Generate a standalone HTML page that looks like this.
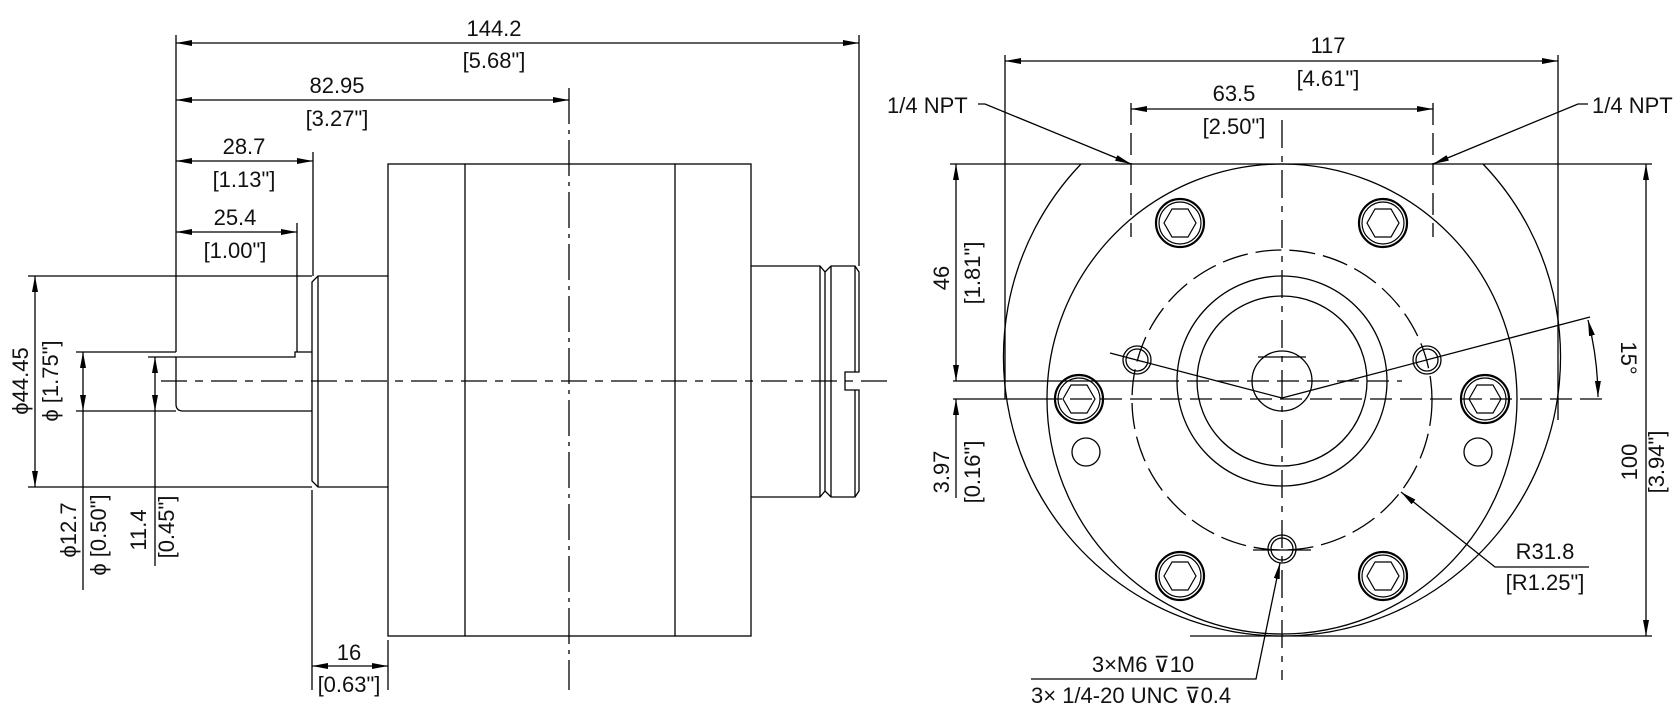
<!DOCTYPE html>
<html><head><meta charset="utf-8"><style>
html,body{margin:0;padding:0;background:#fff;}
svg{display:block;}
text{font-family:"Liberation Sans",sans-serif;font-size:22px;fill:#111;}
</style></head><body>
<svg width="1679" height="713" viewBox="0 0 1679 713" xmlns="http://www.w3.org/2000/svg">
<defs>
<marker id="a" viewBox="0 0 16 6" refX="16" refY="3" markerWidth="16" markerHeight="6" markerUnits="userSpaceOnUse" orient="auto-start-reverse">
<path d="M0,0 L16,3 L0,6 Z" fill="#000"/></marker>
</defs>
<g stroke="#000" stroke-width="1.3" fill="none">
<rect x="388" y="164" width="363" height="472"/>
<line x1="465" y1="164" x2="465" y2="636"/>
<line x1="675" y1="164" x2="675" y2="636"/>
<line x1="569" y1="88" x2="569" y2="690" stroke-dasharray="36,6,4,6"/>
<path d="M751,266 H820 L825,272 V491 L820,497 H751"/>
<path d="M825,272 L831,266 H855 L859,272 V372 H845 V390 H859 V491 L855,497 H831 L825,491"/>
<line x1="820" y1="266" x2="820" y2="497"/>
<line x1="831" y1="266" x2="831" y2="497"/>
<line x1="855" y1="266" x2="855" y2="372"/><line x1="855" y1="390" x2="855" y2="497"/>
<path d="M388,276 H318 L312,282 V481 L318,487 H388"/>
<line x1="318" y1="276" x2="318" y2="487"/>
<path d="M312,352 H295 V357 H176 V404 Q176,411 183,411 H312"/>
<line x1="161" y1="381" x2="894" y2="381" stroke-dasharray="26,8,8,8"/>
<line x1="176" y1="35" x2="176" y2="352"/>
<line x1="313" y1="152" x2="313" y2="276"/>
<line x1="297" y1="223" x2="297" y2="352"/>
<line x1="859" y1="35" x2="859" y2="266"/>
<line x1="28" y1="276" x2="312" y2="276"/>
<line x1="28" y1="487" x2="312" y2="487"/>
<line x1="76" y1="352" x2="176" y2="352"/>
<line x1="76" y1="411" x2="176" y2="411"/>
<line x1="148" y1="357" x2="176" y2="357"/>
<line x1="312" y1="490" x2="312" y2="690"/>
<line x1="388" y1="640" x2="388" y2="690"/>
<line x1="176" y1="43" x2="859" y2="43" marker-start="url(#a)" marker-end="url(#a)"/>
<line x1="176" y1="100" x2="569" y2="100" marker-start="url(#a)" marker-end="url(#a)"/>
<line x1="176" y1="161" x2="313" y2="161" marker-start="url(#a)" marker-end="url(#a)"/>
<line x1="176" y1="232" x2="297" y2="232" marker-start="url(#a)" marker-end="url(#a)"/>
<line x1="35" y1="276" x2="35" y2="487" marker-start="url(#a)" marker-end="url(#a)"/>
<line x1="83" y1="352" x2="83" y2="411" marker-start="url(#a)" marker-end="url(#a)"/>
<line x1="83" y1="411" x2="83" y2="590"/>
<line x1="155" y1="357" x2="155" y2="411" marker-start="url(#a)" marker-end="url(#a)"/>
<line x1="155" y1="411" x2="155" y2="566"/>
<line x1="312" y1="666" x2="388" y2="666" marker-start="url(#a)" marker-end="url(#a)"/>

<line x1="950" y1="164" x2="1652" y2="164"/>
<line x1="1190" y1="636" x2="1652" y2="636"/>
<path d="M1081,164 A279,279 0 0 0 1282,636 A279,279 0 0 0 1483,164"/>
<circle cx="1282" cy="399" r="235"/>
<circle cx="1282" cy="400" r="150" stroke-dasharray="26,8"/>
<circle cx="1282" cy="381" r="105"/>
<circle cx="1282" cy="381" r="85"/>
<circle cx="1282" cy="381" r="30"/>
<line x1="1258" y1="357" x2="1306" y2="357"/>
<line x1="1282" y1="120" x2="1282" y2="680" stroke-dasharray="28,8,6,8"/>
<line x1="953" y1="381" x2="1157" y2="381"/>
<line x1="1157" y1="381" x2="1402" y2="381" stroke-dasharray="22,8"/>
<line x1="953" y1="399" x2="1040" y2="399"/>
<line x1="1040" y1="399" x2="1603" y2="399" stroke-dasharray="22,8"/>
<line x1="1282" y1="398" x2="1110" y2="353"/>
<line x1="1282" y1="398" x2="1590" y2="317"/>
<path d="M1588,320 A317,317 0 0 1 1598,397" marker-start="url(#a)" marker-end="url(#a)"/>
<g stroke-width="2.2">
<circle cx="1180" cy="223" r="24"/><circle cx="1383" cy="223" r="24"/>
<circle cx="1079" cy="399" r="24"/><circle cx="1485" cy="399" r="24"/>
<circle cx="1180" cy="576" r="24"/><circle cx="1383" cy="576" r="24"/>
</g>
<g stroke-width="1.2">
<circle cx="1180" cy="223" r="21"/><circle cx="1383" cy="223" r="21"/>
<circle cx="1079" cy="399" r="21"/><circle cx="1485" cy="399" r="21"/>
<circle cx="1180" cy="576" r="21"/><circle cx="1383" cy="576" r="21"/>
<polygon points="1164,223 1172,209 1188,209 1196,223 1188,237 1172,237"/>
<polygon points="1367,223 1375,209 1391,209 1399,223 1391,237 1375,237"/>
<polygon points="1063,399 1071,385 1087,385 1095,399 1087,413 1071,413"/>
<polygon points="1469,399 1477,385 1493,385 1501,399 1493,413 1477,413"/>
<polygon points="1164,576 1172,562 1188,562 1196,576 1188,590 1172,590"/>
<polygon points="1367,576 1375,562 1391,562 1399,576 1391,590 1375,590"/>
</g>
<circle cx="1086" cy="452" r="14"/><circle cx="1478" cy="452" r="14"/>
<circle cx="1137" cy="360" r="14"/><circle cx="1137" cy="360" r="11"/>
<circle cx="1427" cy="360" r="14"/><circle cx="1427" cy="360" r="11"/>
<circle cx="1282" cy="549" r="14"/><circle cx="1282" cy="549" r="11"/>
<line x1="1253" y1="550" x2="1311" y2="550"/>
<line x1="1005" y1="55" x2="1005" y2="399"/>
<line x1="1558" y1="55" x2="1558" y2="420"/>
<line x1="1005" y1="61" x2="1558" y2="61" marker-start="url(#a)" marker-end="url(#a)"/>
<line x1="1131" y1="103" x2="1131" y2="237" stroke-dasharray="22,8"/>
<line x1="1433" y1="103" x2="1433" y2="237" stroke-dasharray="22,8"/>
<line x1="1131" y1="109" x2="1433" y2="109" marker-start="url(#a)" marker-end="url(#a)"/>
<path d="M978,104 L985,104 L1131,164" marker-end="url(#a)"/>
<path d="M1588,104 H1578 L1433,164" marker-end="url(#a)"/>
<line x1="956" y1="164" x2="956" y2="381" marker-start="url(#a)" marker-end="url(#a)"/>
<line x1="956" y1="498" x2="956" y2="399" marker-end="url(#a)"/>
<line x1="1646" y1="164" x2="1646" y2="636" marker-start="url(#a)" marker-end="url(#a)"/>
<path d="M1589,567 H1495 L1401,492" marker-end="url(#a)"/>
<path d="M1031,679 H1256 L1280,563" marker-end="url(#a)"/>
</g>
<g text-anchor="middle">
<text x="494" y="36">144.2</text><text x="494" y="68">[5.68"]</text>
<text x="337" y="93">82.95</text><text x="337" y="126">[3.27"]</text>
<text x="244" y="154">28.7</text><text x="244" y="187">[1.13"]</text>
<text x="235" y="225">25.4</text><text x="235" y="258">[1.00"]</text>
<text x="349" y="660">16</text><text x="349" y="692">[0.63"]</text>
<text transform="translate(28,381) rotate(-90)">ϕ44.45</text>
<text transform="translate(58,381) rotate(-90)">ϕ [1.75"]</text>
<text transform="translate(76,530) rotate(-90)">ϕ12.7</text>
<text transform="translate(106,535) rotate(-90)">ϕ [0.50"]</text>
<text transform="translate(146,530) rotate(-90)">11.4</text>
<text transform="translate(174,527) rotate(-90)">[0.45"]</text>
<text x="1328" y="53">117</text><text x="1328" y="86">[4.61"]</text>
<text x="1234" y="101">63.5</text><text x="1234" y="134">[2.50"]</text>
<text transform="translate(949,278) rotate(-90)">46</text>
<text transform="translate(980,273) rotate(-90)">[1.81"]</text>
<text transform="translate(949,472) rotate(-90)">3.97</text>
<text transform="translate(980,472) rotate(-90)">[0.16"]</text>
<text transform="translate(1621,358) rotate(90)">15°</text>
<text transform="translate(1637,462) rotate(-90)">100</text>
<text transform="translate(1664,462) rotate(-90)">[3.94"]</text>
<text x="1545" y="559">R31.8</text>
<text x="1545" y="590">[R1.25"]</text>
<text x="1143" y="672">3×M6 ⊽10</text>
</g>
<text x="887" y="113">1/4 NPT</text>
<text x="1592" y="113">1/4 NPT</text>
<text x="1031" y="703">3× 1/4-20 UNC ⊽0.4</text>
</svg>
</body></html>
